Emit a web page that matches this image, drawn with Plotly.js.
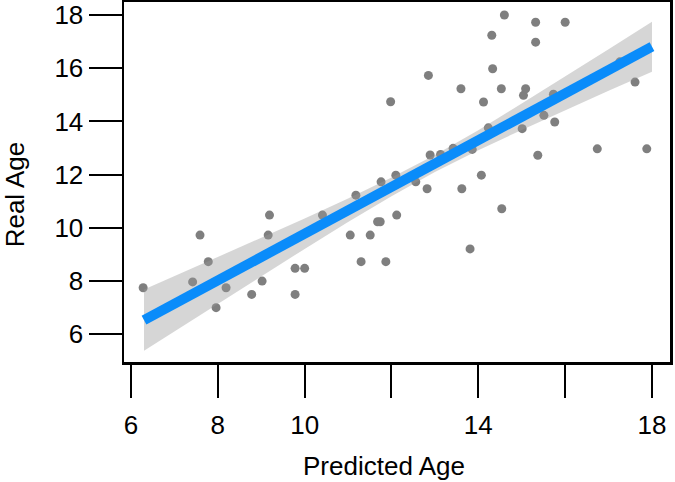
<!DOCTYPE html>
<html>
<head>
<meta charset="utf-8">
<script src="https://cdn.plot.ly/plotly-3.0.1.min.js"></script>
<style>html,body{margin:0;padding:0;background:#fff;}#chart{width:675px;height:482px;}</style>
</head>
<body>
<div id="chart"></div>
<script>
// Scatter data
var predictedAge = [6.28,7.42,7.59,7.78,7.96,8.19,8.78,9.02,9.16,9.19,9.78,10.0,9.78,10.41,11.05,11.18,11.3,11.51,11.68,11.74,11.76,11.87,11.98,12.1,12.12,12.56,12.82,12.85,12.89,13.13,13.42,13.6,13.62,13.81,13.86,14.07,14.12,14.23,14.31,14.33,14.53,14.54,14.6,15.01,15.04,15.09,15.32,15.32,15.37,15.51,15.73,15.76,16.0,16.74,17.26,17.61,17.88];
var realAge      = [7.75,7.97,9.73,8.73,7.0,7.75,7.5,8.0,9.73,10.48,8.48,8.48,7.5,10.48,9.73,11.23,8.73,9.73,10.23,10.23,11.73,8.73,14.74,11.98,10.48,11.73,11.47,15.73,12.74,12.76,12.99,15.23,11.47,9.21,12.95,11.98,14.73,13.76,17.24,15.98,15.23,10.72,18.0,13.73,14.98,15.23,17.73,16.98,12.73,14.23,15.02,13.98,17.73,12.97,16.24,15.48,12.97];

// Fitted line and confidence band
var fitX      = [6.3,7,8,9,10,11,12,13,14,15,16,17,18];
var fitY      = [6.53,7.15,8.02,8.90,9.78,10.66,11.54,12.42,13.30,14.17,15.05,15.93,16.81];
var bandLower = [5.38,6.11,7.15,8.18,9.21,10.22,11.19,12.10,12.92,13.68,14.42,15.15,15.87];
var bandUpper = [7.68,8.18,8.90,9.62,10.35,11.10,11.89,12.74,13.67,14.67,15.68,16.71,17.75];

// Tick labels
var xTickVals = [6,8,10,12,14,16,18];
var xTickText = ['6','8','10','','14','','18'];
var yTickVals = [6,8,10,12,14,16,18];
var yTickText = ['6','8','10','12','14','16','18'];

var FONT = 'Liberation Sans, Arial, sans-serif';

var traces = [
  {
    x: predictedAge, y: realAge, type: 'scatter', mode: 'markers',
    marker: {color: '#7f7f7f', size: 9, line: {width: 0}},
    hoverinfo: 'skip', showlegend: false
  },
  {
    x: fitX.concat(fitX.slice().reverse()),
    y: bandUpper.concat(bandLower.slice().reverse()),
    type: 'scatter', mode: 'lines', fill: 'toself',
    fillcolor: 'rgba(153,153,153,0.4)', line: {width: 0, color: 'rgba(0,0,0,0)'},
    hoverinfo: 'skip', showlegend: false
  },
  {
    x: fitX, y: fitY, type: 'scatter', mode: 'lines',
    line: {color: '#0a8cfa', width: 10, shape: 'linear'},
    hoverinfo: 'skip', showlegend: false
  }
];

var layout = {
  width: 675, height: 482,
  margin: {l: 124, r: 5, t: 2, b: 120, pad: 0},
  paper_bgcolor: '#ffffff', plot_bgcolor: '#ffffff',
  font: {family: FONT, size: 26, color: '#000'},
  showlegend: false,
  xaxis: {
    range: [5.839, 18.415], showgrid: false, zeroline: false,
    showline: true, mirror: true, linecolor: '#000', linewidth: 2.5,
    ticks: 'outside', ticklen: 33, tickwidth: 2, tickcolor: '#000',
    tickvals: xTickVals, ticktext: xTickText, ticklabelstandoff: 5,
    tickfont: {family: FONT, size: 26, color: '#000'}
  },
  yaxis: {
    range: [4.959, 18.489], showgrid: false, zeroline: false,
    showline: true, mirror: true, linecolor: '#000', linewidth: 2.5,
    ticks: 'outside', ticklen: 33, tickwidth: 2, tickcolor: '#000',
    tickvals: yTickVals, ticktext: yTickText,
    tickfont: {family: FONT, size: 26, color: '#000'}
  },
  annotations: [
    {text: 'Predicted Age', xref: 'paper', yref: 'paper', x: 0.4753, y: -0.29,
     xanchor: 'center', yanchor: 'middle', showarrow: false,
     font: {family: FONT, size: 26, color: '#000'}},
    {text: 'Real Age', xref: 'paper', yref: 'paper', x: -0.199, y: 0.4667,
     xanchor: 'center', yanchor: 'middle', showarrow: false, textangle: -90,
     font: {family: FONT, size: 26, color: '#000'}}
  ]
};

Plotly.newPlot('chart', traces, layout, {staticPlot: true, displayModeBar: false});
</script>
</body>
</html>
